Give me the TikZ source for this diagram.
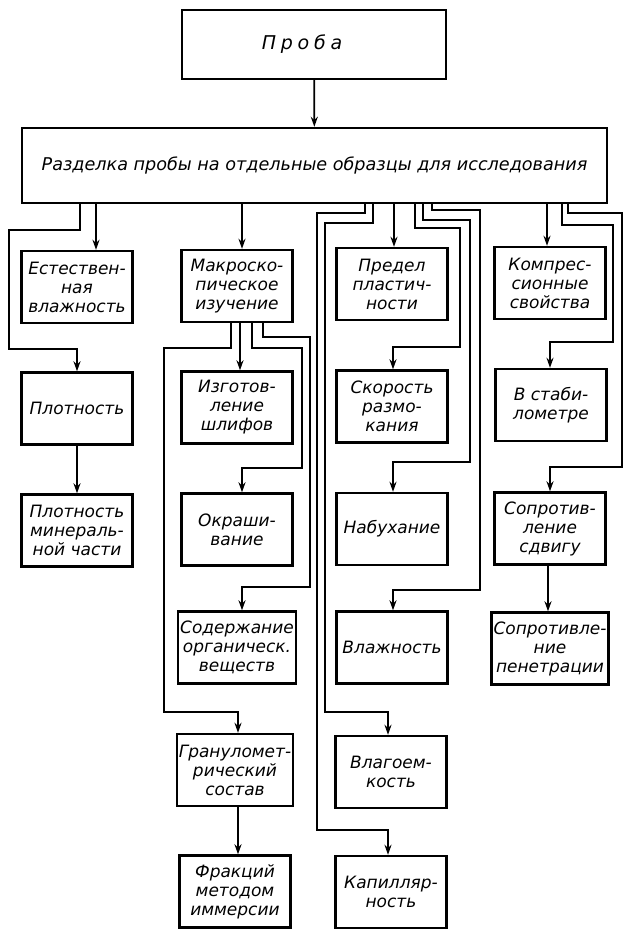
\documentclass[tikz,border=0pt]{standalone}
\usepackage{fontspec}
\setmainfont{DejaVu Sans}
\usetikzlibrary{arrows.meta}

\begin{document}
\begin{tikzpicture}[x=0.5pt, y=-0.5pt, line width=0.9pt,
		>={Stealth[length=5pt,width=3.5pt]},
		box/.style={draw, rectangle, line width=1.2pt, minimum width=55.5pt, minimum height=36pt,
			inner sep=1pt, align=center, font=\fontsize{8.5}{9.5}\selectfont\itshape}]
				\useasboundingbox (0,0) rectangle (624,929);
				
				% top
				\node (proba) [box, minimum width=132pt, minimum height=34.5pt, font=\fontsize{9.5}{11}\selectfont\itshape] at (314,44.5) {\hspace*{-12pt}\addfontfeature{LetterSpace=25}Проба};
				\node (split) [box, minimum width=292.5pt, minimum height=37.5pt, font=\fontsize{8.8}{11}\selectfont\itshape] at (314.5,165.5) {Разделка пробы на отдельные образцы для исследования};
				
				% first column
				\node (estvl) [box] at (77,287) {Естествен-\\ная\\влажность};
				\node (plotn) [box] at (77,408.5) {Плотность};
				\node (plotmin) [box] at (77,530.5) {Плотность\\минераль-\\ной части};
				
				% second column
				\node (macro) [box] at (237,286) {Макроско-\\пическое\\изучение};
				\node (shlif) [box] at (237,407.5) {Изготов-\\ление\\шлифов};
				\node (okr) [box] at (237,529.5) {Окраши-\\вание};
				\node (organ) [box] at (237,647.5) {Содержание\\органическ.\\веществ};
				\node (granul) [box] at (235,770) {Грануломет-\\рический\\состав};
				\node (frakc) [box] at (235,891.5) {Фракций\\методом\\иммерсии};
				
				% third column
				\node (predel) [box] at (392,284) {Предел\\пластич-\\ности};
				\node (skor) [box] at (392,406.5) {Скорость\\размо-\\кания};
				\node (nabuh) [box] at (392,529) {Набухание};
				\node (vlazh) [box] at (392,647.5) {Влажность};
				\node (vlagoem) [box] at (391,772) {Влагоем-\\кость};
				\node (kapil) [box] at (391,892) {Капилляр-\\ность};
				
				% fourth column
				\node (kompr) [box] at (550,283) {Компрес-\\сионные\\свойства};
				\node (stabil) [box] at (551,405) {В стаби-\\лометре};
				\node (sdvig) [box] at (550,528.5) {Сопротив-\\ление\\сдвигу};
				\node (penetr) [box] at (550,648.5) {Сопротивле-\\ние\\пенетрации};
				
				% Arrows
				\draw[->] (proba) -- (split);
				
				\draw[->] (split.south -| 96,0) -- (estvl.north -| 96,0);
				\draw[->] (split.south -| 80,0) |- (9,230) |- (77,349) -- (plotn.north -| 77,0);
				\draw[->] (plotn) -- (plotmin);
				
				\draw[->] (split.south -| 242,0) -- (macro.north -| 242,0);
				\draw[->] (macro.south -| 240,0) -- (shlif.north -| 240,0);
				\draw[->] (macro.south -| 252,0) |- (302,348) |- (242,468) -- (okr.north -| 242,0);
				\draw[->] (macro.south -| 263,0) |- (310,337) |- (242,587) -- (organ.north -| 242,0);
				\draw[->] (macro.south -| 231,0) |- (164,348) |- (238,712) -- (granul.north -| 238,0);
				\draw[->] (granul.south -| 238,0) -- (frakc.north -| 238,0);
				
				\draw[->] (split.south -| 394,0) -- (predel.north -| 394,0);
				\draw[->] (split.south -| 365,0) |- (317,213) |- (388,830) -- (kapil.north -| 388,0);
				\draw[->] (split.south -| 373,0) |- (325,223) |- (388,712) -- (vlagoem.north -| 388,0);
				\draw[->] (split.south -| 415,0) |- (460,228) |- (393,347) -- (skor.north -| 393,0);
				\draw[->] (split.south -| 423,0) |- (470,220) |- (393,462) -- (nabuh.north -| 393,0);
				\draw[->] (split.south -| 432,0) |- (480,210) |- (393,590) -- (vlazh.north -| 393,0);
				
				\draw[->] (split.south -| 547,0) -- (kompr.north -| 547,0);
				\draw[->] (split.south -| 562,0) |- (613,225) |- (550,342) -- (stabil.north -| 550,0);
				\draw[->] (split.south -| 568,0) |- (622,213) |- (550,467) -- (sdvig.north -| 550,0);
				\draw[->] (sdvig.south -| 548,0) -- (penetr.north -| 548,0);
				
			\end{tikzpicture}
\end{document}
